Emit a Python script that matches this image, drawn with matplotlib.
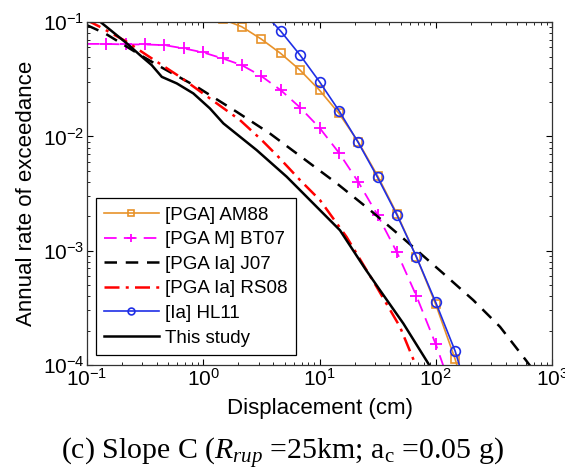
import numpy as np
import matplotlib
matplotlib.use('Agg')
import matplotlib.pyplot as plt

plt.rcParams['font.family'] = ['Liberation Sans', 'DejaVu Sans']
plt.rcParams['mathtext.fontset'] = 'custom'
plt.rcParams['mathtext.rm'] = 'Liberation Serif'
plt.rcParams['mathtext.it'] = 'Liberation Serif:italic'

# displacement (cm) / annual rate of exceedance
am88_x = [1.47, 2.15, 3.16, 4.64, 6.81, 10.0, 14.7, 21.5, 31.6, 46.4, 68.1, 100, 147, 215]
am88_y = [0.106, 0.091, 0.071, 0.0532, 0.038, 0.0254, 0.0159, 0.0090, 0.00452, 0.0021,
          8.85e-4, 3.39e-4, 1.12e-4, 3.0e-5]

bt07_x = [0.1, 0.147, 0.215, 0.316, 0.464, 0.681, 1.0, 1.47, 2.15, 3.16, 4.64, 6.81,
          10.0, 14.7, 21.5, 31.6, 46.4, 68.1, 100, 147]
bt07_y = [0.0645, 0.0645, 0.0638, 0.0638, 0.0629, 0.0589, 0.0543, 0.0481, 0.0420, 0.0337,
          0.0254, 0.0179, 0.0119, 0.00719, 0.00401, 0.00205, 9.66e-4, 4.03e-4, 1.52e-4, 5.0e-5]

j07_x = [0.1, 0.143, 0.305, 0.453, 0.879, 1.94, 3.75, 7.26, 14.1, 27.2, 52.6, 116, 210, 357, 597, 650]
j07_y = [0.094, 0.0797, 0.0497, 0.0394, 0.0272, 0.0164, 0.0106, 0.00642, 0.00388, 0.00227,
         0.00128, 6.33e-4, 3.70e-4, 2.16e-4, 1.10e-4, 9.8e-5]

rs08_x = [0.1, 0.129, 0.220, 0.327, 0.631, 1.14, 2.07, 3.18, 4.42, 6.80, 10.1, 17.1, 31.0, 49.2, 66.4, 68.0]
rs08_y = [0.104, 0.091, 0.0673, 0.0514, 0.0332, 0.0215, 0.0139, 0.0093, 0.00664, 0.00415,
          0.00277, 0.00132, 4.83e-4, 2.16e-4, 1.03e-4, 9.6e-5]

hl11_x = [3.16, 4.64, 6.81, 10.0, 14.7, 21.5, 31.6, 46.4, 68.1, 100, 147, 215]
hl11_y = [0.127, 0.0834, 0.0514, 0.0301, 0.0168, 0.00887, 0.00438, 0.00205, 8.85e-4,
          3.53e-4, 1.32e-4, 3.6e-5]

study_x = [0.1, 0.220, 0.286, 0.360, 0.440, 0.592, 0.821, 1.14, 1.49, 2.88, 5.22, 6.80,
           15.0, 24.6, 33.1, 52.6, 86.3, 90.0]
study_y = [0.125, 0.0652, 0.0514, 0.0421, 0.0332, 0.0291, 0.0238, 0.0176, 0.0130, 0.00759,
           0.00444, 0.00339, 0.00151, 7.0e-4, 4.52e-4, 2.31e-4, 1.03e-4, 9.5e-5]

fig = plt.figure(figsize=(5.65, 4.71), dpi=100)
ax = fig.add_axes([0.154, 0.225, 0.823, 0.728])

ax.plot(am88_x, am88_y, '-s', color='#E8922A', lw=1.2, ms=6, mfc='none', mew=1.2,
        label='[PGA] AM88')
ax.plot(bt07_x, bt07_y, '--+', color='#FF00FF', lw=1.3, ms=9, mew=1.3, dashes=(7, 4),
        markevery=list(range(1, len(bt07_x))), label='[PGA M] BT07')
ax.plot(j07_x, j07_y, '--', color='black', lw=1.8, dashes=(5, 3.5), label='[PGA Ia] J07')
ax.plot(rs08_x, rs08_y, '-.', color='#FF0000', lw=1.8, dashes=(6, 2.5, 1.2, 2.5),
        label='[PGA Ia] RS08')
ax.plot(hl11_x, hl11_y, '-o', color='#1F2FE6', lw=1.2, ms=7, mfc='none', mew=1.2,
        label='[Ia] HL11')
ax.plot(study_x, study_y, '-', color='black', lw=1.8, label='This study')

ax.set_xscale('log')
ax.set_yscale('log')
ax.set_xlim(0.1, 1000)
ax.set_ylim(1e-4, 1e-1)
ax.tick_params(which='both', direction='in', top=True, right=True, labelsize=15)
ax.tick_params(which='major', length=4.5, pad=2)
ax.tick_params(which='minor', length=2.5)
for s in ax.spines.values():
    s.set_linewidth(0.9)
    s.set_color('#333333')

ax.set_xlabel('Displacement (cm)', fontsize=16, labelpad=6)
ax.set_ylabel('Annual rate of exceedance', fontsize=16, labelpad=4)

leg = ax.legend(loc='lower left', bbox_to_anchor=(0.019, 0.029), fontsize=13.5,
                numpoints=1, handlelength=2.9, handletextpad=0.35, labelspacing=0.4,
                borderpad=0.45, borderaxespad=0, fancybox=False, framealpha=1,
                markerscale=0.7)
leg.get_frame().set_edgecolor('black')
leg.get_frame().set_linewidth(0.9)

fig.text(0.5, 0.038, r'(c) Slope C ($R_{rup}$ =25km; a$_{\mathrm{c}}$ =0.05 g)',
         family='Liberation Serif', fontsize=21.5, ha='center', va='center')

fig.savefig('out.png', dpi=100)
